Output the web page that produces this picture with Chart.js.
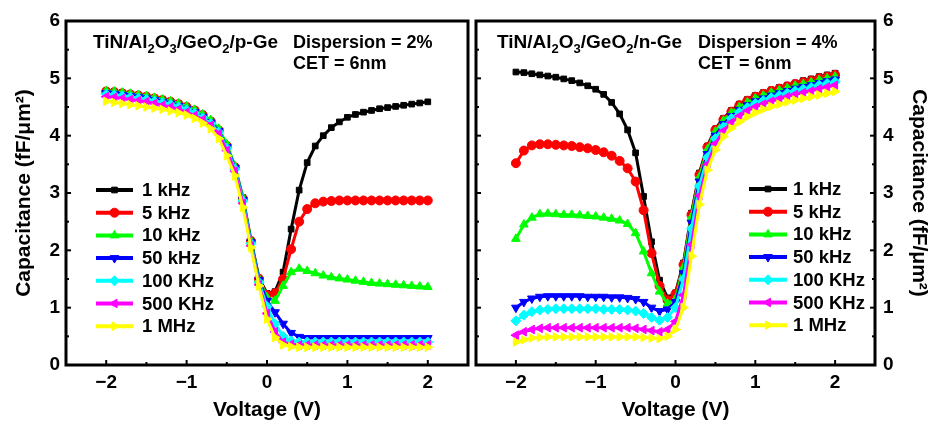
<!DOCTYPE html>
<html>
<head>
<meta charset="utf-8">
<script src="https://cdn.jsdelivr.net/npm/chart.js@4.4.1/dist/chart.umd.min.js"></script>
<style>
  html, body { margin: 0; padding: 0; background: #fff; }
  #wrap { position: relative; width: 932px; height: 427px; overflow: hidden; }
  canvas { position: absolute; top: 0; }
</style>
</head>
<body>
<div id="wrap">
  <canvas id="pGe" width="474" height="427" style="left:0px"></canvas>
  <canvas id="nGe" width="462" height="427" style="left:470px"></canvas>
</div>
<script>
// voltage sweep (V)
const volts = [-2.0, -1.9, -1.8, -1.7, -1.6, -1.5, -1.4, -1.3, -1.2, -1.1, -1.0,
  -0.9, -0.8, -0.7, -0.6, -0.5, -0.4, -0.3, -0.2, -0.1, 0.0,
  0.1, 0.2, 0.3, 0.4, 0.5, 0.6, 0.7, 0.8, 0.9, 1.0,
  1.1, 1.2, 1.3, 1.4, 1.5, 1.6, 1.7, 1.8, 1.9, 2.0];

const freqLabels = ['1 kHz', '5 kHz', '10 kHz', '50 kHz', '100 KHz', '500 KHz', '1 MHz'];
const xTicks = [-2, -1, 0, 1, 2];
const yTicks = [0, 1, 2, 3, 4, 5, 6];

// p-Ge panel, capacitance fF/um2
const p1k = [4.78, 4.77, 4.75, 4.73, 4.71, 4.69, 4.66, 4.63, 4.60, 4.56, 4.51, 4.45, 4.37, 4.26, 4.10, 3.83, 3.46, 2.92, 2.18, 1.52, 1.25,
  1.28, 1.62, 2.37, 3.05, 3.53, 3.82, 4.00, 4.14, 4.24, 4.32, 4.37, 4.41, 4.44, 4.47, 4.49, 4.51, 4.53, 4.55, 4.57, 4.59];
const p5k = [4.77, 4.76, 4.74, 4.72, 4.70, 4.68, 4.65, 4.62, 4.59, 4.55, 4.50, 4.44, 4.36, 4.25, 4.09, 3.82, 3.45, 2.90, 2.16, 1.50, 1.22,
  1.25, 1.50, 2.02, 2.50, 2.72, 2.82, 2.85, 2.86, 2.87, 2.87, 2.87, 2.87, 2.87, 2.87, 2.87, 2.87, 2.87, 2.87, 2.87, 2.87];
const p10k = [4.78, 4.77, 4.75, 4.73, 4.71, 4.69, 4.66, 4.63, 4.60, 4.56, 4.51, 4.45, 4.37, 4.27, 4.12, 3.85, 3.47, 2.92, 2.17, 1.50, 1.18,
  1.12, 1.38, 1.62, 1.68, 1.64, 1.60, 1.56, 1.53, 1.51, 1.49, 1.47, 1.45, 1.43, 1.42, 1.41, 1.40, 1.39, 1.38, 1.37, 1.36];
const p50k = [4.74, 4.73, 4.71, 4.69, 4.67, 4.65, 4.62, 4.59, 4.56, 4.52, 4.47, 4.41, 4.33, 4.23, 4.08, 3.80, 3.44, 2.88, 2.14, 1.48, 1.12,
  0.92, 0.72, 0.56, 0.49, 0.47, 0.47, 0.47, 0.47, 0.47, 0.47, 0.47, 0.47, 0.47, 0.47, 0.47, 0.47, 0.47, 0.47, 0.47, 0.47];
const p100k = [4.72, 4.71, 4.69, 4.67, 4.65, 4.63, 4.60, 4.57, 4.54, 4.50, 4.45, 4.39, 4.31, 4.21, 4.06, 3.78, 3.42, 2.86, 2.12, 1.44, 1.02,
  0.72, 0.50, 0.42, 0.40, 0.40, 0.40, 0.40, 0.40, 0.40, 0.40, 0.40, 0.40, 0.40, 0.40, 0.40, 0.40, 0.40, 0.40, 0.40, 0.40];
const p500k = [4.68, 4.67, 4.65, 4.63, 4.61, 4.59, 4.56, 4.53, 4.50, 4.46, 4.41, 4.35, 4.28, 4.18, 4.03, 3.74, 3.38, 2.82, 2.08, 1.40, 0.90,
  0.58, 0.40, 0.36, 0.35, 0.35, 0.35, 0.35, 0.35, 0.35, 0.35, 0.35, 0.35, 0.35, 0.35, 0.35, 0.35, 0.35, 0.35, 0.35, 0.35];
const p1M = [4.60, 4.58, 4.56, 4.54, 4.52, 4.50, 4.48, 4.46, 4.43, 4.40, 4.36, 4.30, 4.22, 4.12, 3.95, 3.65, 3.30, 2.75, 2.05, 1.38, 0.80,
  0.48, 0.35, 0.32, 0.31, 0.31, 0.31, 0.31, 0.31, 0.31, 0.31, 0.31, 0.31, 0.31, 0.31, 0.31, 0.31, 0.31, 0.31, 0.31, 0.31];

// n-Ge panel
const n1k = [5.11, 5.10, 5.08, 5.06, 5.04, 5.02, 4.99, 4.96, 4.92, 4.87, 4.81, 4.72, 4.58, 4.38, 4.10, 3.70, 2.94, 2.15, 1.48, 1.17, 1.26,
  1.78, 2.65, 3.35, 3.82, 4.12, 4.30, 4.44, 4.55, 4.63, 4.70, 4.75, 4.80, 4.84, 4.88, 4.92, 4.96, 4.99, 5.03, 5.06, 5.09];
const n5k = [3.52, 3.74, 3.83, 3.85, 3.85, 3.84, 3.83, 3.82, 3.80, 3.78, 3.75, 3.71, 3.65, 3.56, 3.43, 3.20, 2.70, 1.95, 1.38, 1.13, 1.24,
  1.75, 2.62, 3.32, 3.80, 4.10, 4.28, 4.42, 4.53, 4.61, 4.68, 4.73, 4.78, 4.82, 4.86, 4.90, 4.93, 4.96, 5.00, 5.03, 5.06];
const n10k = [2.20, 2.45, 2.57, 2.63, 2.64, 2.63, 2.62, 2.62, 2.61, 2.60, 2.59, 2.57, 2.55, 2.52, 2.46, 2.30, 1.98, 1.60, 1.28, 1.07, 1.15,
  1.70, 2.58, 3.28, 3.76, 4.07, 4.26, 4.40, 4.50, 4.58, 4.65, 4.70, 4.75, 4.79, 4.83, 4.87, 4.90, 4.93, 4.97, 5.00, 5.03];
const n50k = [1.00, 1.10, 1.16, 1.19, 1.20, 1.20, 1.20, 1.20, 1.20, 1.19, 1.19, 1.19, 1.18, 1.18, 1.17, 1.15, 1.10, 1.00, 0.94, 0.97, 1.10,
  1.60, 2.48, 3.20, 3.68, 4.00, 4.20, 4.34, 4.45, 4.53, 4.60, 4.65, 4.70, 4.74, 4.78, 4.82, 4.85, 4.88, 4.92, 4.95, 4.98];
const n100k = [0.77, 0.87, 0.93, 0.96, 0.97, 0.98, 0.98, 0.98, 0.98, 0.98, 0.98, 0.97, 0.97, 0.97, 0.96, 0.94, 0.90, 0.83, 0.78, 0.83, 1.00,
  1.50, 2.38, 3.12, 3.62, 3.95, 4.15, 4.30, 4.41, 4.49, 4.56, 4.61, 4.66, 4.70, 4.74, 4.78, 4.81, 4.84, 4.88, 4.91, 4.94];
const n500k = [0.52, 0.58, 0.62, 0.64, 0.65, 0.65, 0.65, 0.65, 0.65, 0.65, 0.65, 0.65, 0.65, 0.65, 0.65, 0.64, 0.62, 0.60, 0.58, 0.62, 0.76,
  1.22, 2.10, 2.95, 3.50, 3.86, 4.08, 4.23, 4.34, 4.43, 4.50, 4.55, 4.60, 4.64, 4.68, 4.72, 4.75, 4.78, 4.82, 4.85, 4.88];
const n1M = [0.40, 0.44, 0.47, 0.48, 0.49, 0.49, 0.49, 0.49, 0.49, 0.49, 0.49, 0.49, 0.49, 0.49, 0.49, 0.49, 0.48, 0.47, 0.46, 0.50, 0.62,
  1.00, 1.90, 2.80, 3.40, 3.75, 3.98, 4.13, 4.24, 4.33, 4.40, 4.46, 4.51, 4.55, 4.59, 4.62, 4.65, 4.68, 4.71, 4.74, 4.77];

// styles
const FAM = "'Liberation Sans', Arial, sans-serif";
const colors = ['#000000', '#ff0000', '#00ff00', '#0000ff', '#00ffff', '#ff00ff', '#ffff00'];
const marks = [
  {style: 'rect', rot: 0, r: 4},
  {style: 'circle', rot: 0, r: 4.5},
  {style: 'triangle', rot: 0, r: 5},
  {style: 'triangle', rot: 180, r: 5},
  {style: 'rectRot', rot: 0, r: 5},
  {style: 'triangle', rot: 270, r: 5},
  {style: 'triangle', rot: 90, r: 5}
];

Chart.defaults.font.family = FAM;
Chart.defaults.font.weight = 'bold';
Chart.defaults.color = '#000';

function makeSets(series){
  return series.map(function(vals, i){
    return {
      label: freqLabels[i],
      data: vals.map(function(c, k){ return {x: volts[k], y: c}; }),
      borderColor: colors[i],
      backgroundColor: colors[i],
      borderWidth: 3,
      pointStyle: marks[i].style,
      pointRotation: marks[i].rot,
      pointRadius: marks[i].r,
      pointBorderWidth: 1,
      tension: 0,
      order: series.length - i
    };
  });
}

function fmt(v){
  return v < 0 ? '\u2212' + Math.abs(v) : String(v);
}

function drawFormula(ctx, parts, x, y){
  parts.forEach(function(p){
    ctx.font = p[1] ? 'bold 13px ' + FAM : 'bold 19px ' + FAM;
    ctx.fillText(p[0], x, y + (p[1] ? 5 : 0));
    x += ctx.measureText(p[0]).width;
  });
}

// frame, inner ticks, legend and labels
const panelDeco = {
  id: 'panelDeco',
  afterDatasetsDraw(chart, args, o){
    const ctx = chart.ctx, a = chart.chartArea;
    const sx = chart.scales.x, sy = chart.scales.y;
    ctx.save();
    ctx.strokeStyle = '#000';
    ctx.lineWidth = 2;
    for (let v = -2; v <= 2.01; v += 0.5) {
      const px = sx.getPixelForValue(v);
      const len = Math.abs(v % 1) < 0.01 ? 5 : 3;
      ctx.beginPath(); ctx.moveTo(px, a.bottom); ctx.lineTo(px, a.bottom - len); ctx.stroke();
    }
    for (let v = 0.5; v <= 5.51; v += 0.5) {
      const py = sy.getPixelForValue(v);
      const len = Math.abs(v % 1) < 0.01 ? 5 : 3;
      o.sides.forEach(function(s){
        ctx.beginPath();
        if (s === 'left') { ctx.moveTo(a.left, py); ctx.lineTo(a.left + len, py); }
        else { ctx.moveTo(a.right, py); ctx.lineTo(a.right - len, py); }
        ctx.stroke();
      });
    }
    ctx.lineWidth = 3;
    ctx.strokeRect(a.left, a.top, a.right - a.left, a.bottom - a.top);

    // legend
    chart.data.datasets.forEach(function(ds, i){
      const y = o.legY + i * 22.7;
      ctx.strokeStyle = ds.borderColor;
      ctx.fillStyle = ds.borderColor;
      ctx.lineWidth = 4;
      ctx.beginPath(); ctx.moveTo(o.legX0, y); ctx.lineTo(o.legX1, y); ctx.stroke();
      ctx.lineWidth = 1;
      Chart.helpers.drawPoint(ctx, {pointStyle: ds.pointStyle, rotation: ds.pointRotation, radius: ds.pointRadius, borderWidth: 1},
        (o.legX0 + o.legX1) / 2, y);
      ctx.fillStyle = '#000';
      ctx.font = 'bold 18.5px ' + FAM;
      ctx.textBaseline = 'middle';
      ctx.textAlign = 'left';
      ctx.fillText(ds.label, o.legText, y + 1);
    });

    // annotations
    ctx.fillStyle = '#000';
    ctx.textBaseline = 'alphabetic';
    drawFormula(ctx, [['TiN/Al', 0], ['2', 1], ['O', 0], ['3', 1], ['/GeO', 0], ['2', 1], ['/' + o.type, 0]], o.formX, 48);
    ctx.font = 'bold 18px ' + FAM;
    ctx.fillText(o.disp, o.dispX, 48);
    ctx.fillText('CET = 6nm', o.dispX, 69);
    ctx.restore();
  }
};

function makeChart(id, series, side, deco){
  const isLeft = side === 'left';
  return new Chart(document.getElementById(id), {
    type: 'line',
    data: { datasets: makeSets(series) },
    plugins: [panelDeco],
    options: {
      responsive: false,
      animation: false,
      devicePixelRatio: 1,
      layout: { padding: isLeft ? {top: 21, right: 2, left: 0, bottom: 0} : {top: 21, right: 0, left: 2, bottom: 0} },
      plugins: {
        legend: { display: false },
        tooltip: { enabled: false },
        panelDeco: deco
      },
      scales: {
        x: {
          type: 'linear',
          min: -2.5,
          max: 2.5,
          afterBuildTicks: function(s){ s.ticks = xTicks.map(function(v){ return {value: v}; }); },
          afterFit: function(s){ s.height = 62; },
          grid: { display: false, drawTicks: false },
          border: { display: false },
          ticks: { font: {size: 19, weight: 'bold'}, padding: 6, callback: fmt, maxRotation: 0 },
          title: { display: true, text: 'Voltage (V)', font: {size: 21, weight: 'bold'}, padding: {top: 0, bottom: 4} }
        },
        y: {
          position: side,
          min: 0,
          max: 6,
          afterBuildTicks: function(s){ s.ticks = yTicks.map(function(v){ return {value: v}; }); },
          afterFit: function(s){ s.width = isLeft ? 66 : 57; },
          grid: { display: false, drawTicks: false },
          border: { display: false },
          ticks: { font: {size: 19, weight: 'bold'}, padding: isLeft ? 6 : 8, callback: fmt },
          title: { display: true, text: 'Capacitance (fF/\u03bcm\u00b2)', font: {size: 21, weight: 'bold'}, padding: {top: isLeft ? 12 : 1, bottom: 0} }
        }
      }
    }
  });
}

makeChart('pGe', [p1k, p5k, p10k, p50k, p100k, p500k, p1M], 'left',
  {sides: ['left'], legX0: 96, legX1: 133, legText: 142, legY: 190, formX: 93, dispX: 293, type: 'p-Ge', disp: 'Dispersion = 2%'});
makeChart('nGe', [n1k, n5k, n10k, n50k, n100k, n500k, n1M], 'right',
  {sides: ['left', 'right'], legX0: 279, legX1: 317, legText: 323, legY: 189, formX: 27, dispX: 228, type: 'n-Ge', disp: 'Dispersion = 4%'});
</script>
</body>
</html>
